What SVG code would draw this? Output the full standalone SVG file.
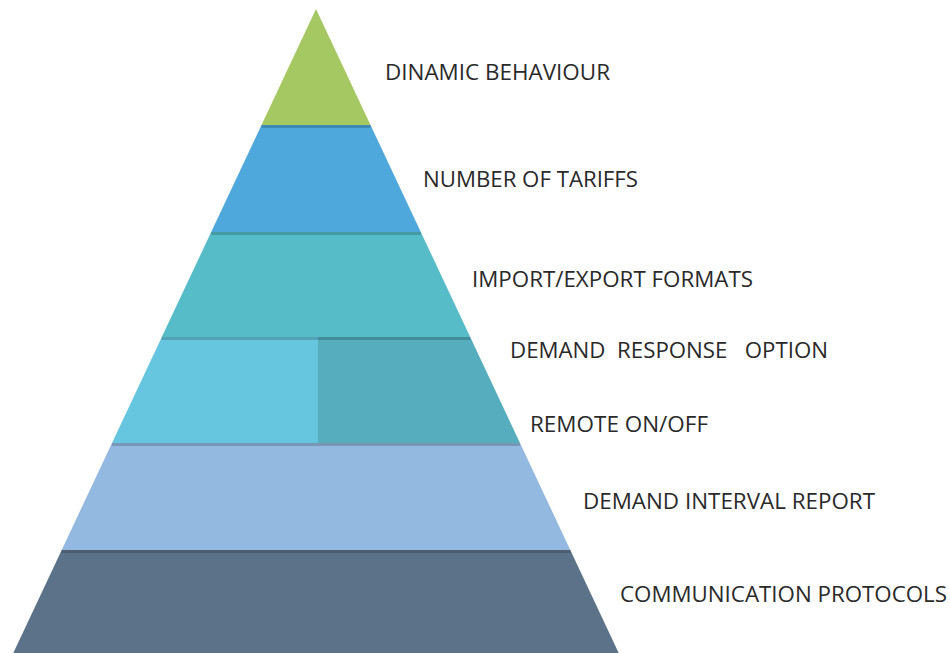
<svg xmlns="http://www.w3.org/2000/svg" width="950" height="653" viewBox="0 0 950 653">
<style>
  text { font-family: "Open Sans", "Liberation Sans", sans-serif; font-size: 21px; fill: #2a2a2a; }
  .sep { stroke: #000000; stroke-opacity: 0.18; stroke-width: 3; }
</style>
<rect width="950" height="653" fill="#ffffff"/>
<g id="layer-dinamic">
  <polygon points="316,9 370.5,125 261.5,125" fill="#a6c862"/>
  <text x="385" y="80" textLength="225" lengthAdjust="spacingAndGlyphs">DINAMIC BEHAVIOUR</text>
</g>
<g id="layer-tariffs">
  <polygon points="261.5,125 370.5,125 420.8,232 211.2,232" fill="#4fa8dc"/>
  <line class="sep" x1="261.5" y1="126.5" x2="370.5" y2="126.5"/>
  <text x="423" y="187" textLength="215" lengthAdjust="spacingAndGlyphs">NUMBER OF TARIFFS</text>
</g>
<g id="layer-formats">
  <polygon points="211.2,232 420.8,232 470.2,337 161.8,337" fill="#55bcc8"/>
  <line class="sep" x1="211" y1="233.5" x2="421" y2="233.5"/>
  <text x="472" y="287" textLength="281" lengthAdjust="spacingAndGlyphs">IMPORT/EXPORT FORMATS</text>
</g>
<g id="layer-demand-response">
  <polygon points="161.8,337 318,337 318,443 112,443" fill="#67c6df"/>
  <polygon points="318,337 470.2,337 520,443 318,443" fill="#55adbd"/>
  <line class="sep" x1="161.5" y1="338.5" x2="470.5" y2="338.5"/>
  <text x="510" y="358" textLength="318" lengthAdjust="spacingAndGlyphs" xml:space="preserve">DEMAND  RESPONSE   OPTION</text>
  <text x="530" y="432" textLength="178" lengthAdjust="spacingAndGlyphs">REMOTE ON/OFF</text>
</g>
<g id="layer-interval">
  <polygon points="112,443 520,443 570.3,550 61.7,550" fill="#93b9e0"/>
  <line class="sep" x1="112" y1="444.5" x2="520" y2="444.5"/>
  <text x="583" y="509" textLength="292" lengthAdjust="spacingAndGlyphs">DEMAND INTERVAL REPORT</text>
</g>
<g id="layer-protocols">
  <polygon points="61.7,550 570.3,550 618.7,653 13.3,653" fill="#5c7288"/>
  <line class="sep" x1="61.5" y1="551.5" x2="570.5" y2="551.5"/>
  <text x="620" y="602" textLength="327" lengthAdjust="spacingAndGlyphs">COMMUNICATION PROTOCOLS</text>
</g>
</svg>
